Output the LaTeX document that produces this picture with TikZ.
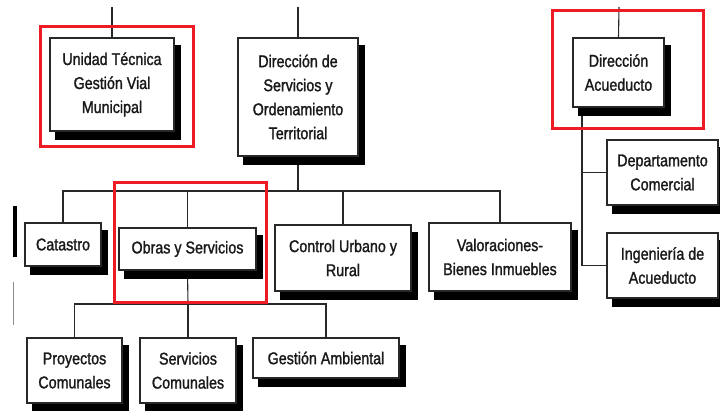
\documentclass[tikz,border=0pt]{standalone}
\usepackage{fontspec}
\setmainfont{Liberation Sans}[FakeStretch=0.84,FakeBold=1.4]
\usetikzlibrary{calc,backgrounds}
\definecolor{redbox}{RGB}{237,28,36}
\definecolor{linec}{RGB}{40,40,40}
\begin{document}
\begin{tikzpicture}[x=1pt,y=-1pt,
  box/.style={draw=linec, fill=white, line width=1.1pt, align=center, inner sep=0pt,
    font=\fontsize{17}{24}\selectfont, text=black!90},
  conn/.style={draw=linec, line width=1.1pt},
  shad/.style={fill=black},
  hl/.style={draw=redbox, line width=3pt}]
\useasboundingbox (0,0) rectangle (720,411);
% coordinates
\coordinate (tu) at (112,7);
\coordinate (ts) at (298,7);
\coordinate (ta) at (619,7);
\coordinate (bar1) at (298,191);
\coordinate (bar2) at (188,304);
\coordinate (ab) at (582,107);
% nodes
\node[box, minimum width=124pt, minimum height=93pt] (unidad) at (112,84.5) {Unidad Técnica\\Gestión Vial\\Municipal};
\node[box, minimum width=120pt, minimum height=118pt] (dserv) at (298,97) {Dirección de\\Servicios y\\Ordenamiento\\Territorial};
\node[box, minimum width=91pt, minimum height=69pt] (dacue) at (618.5,72.5) {Dirección\\Acueducto};
\node[box, minimum width=76pt, minimum height=43pt] (catastro) at (63,244.5) {Catastro};
\node[box, minimum width=137pt, minimum height=42pt] (obras) at (187.5,249) {Obras y Servicios};
\node[box, minimum width=136pt, minimum height=66pt] (control) at (343,258) {Control Urbano y\\Rural};
\node[box, minimum width=142pt, minimum height=68pt] (valor) at (500,257) {Valoraciones-\\Bienes Inmuebles};
\node[box, minimum width=95pt, minimum height=65pt] (proy) at (74.5,370.5) {Proyectos\\Comunales};
\node[box, minimum width=96pt, minimum height=65pt] (servcom) at (188,370.5) {Servicios\\Comunales};
\node[box, minimum width=146pt, minimum height=40pt] (gestion) at (326,358) {Gestión Ambiental};
\node[box, minimum width=111pt, minimum height=65pt] (depto) at (662.5,172.5) {Departamento\\Comercial};
\node[box, minimum width=111pt, minimum height=65pt] (ingen) at (662.5,265.5) {Ingeniería de\\Acueducto};
\begin{scope}[on background layer]
% connectors
\draw[conn] (tu) -- (unidad.north);
\draw[conn] (ts) -- (dserv.north);
\draw[conn] (ta) -- (dacue.north);
\draw[conn] (dserv.south) -- (bar1);
\draw[conn] (catastro.north) |- (bar1) -| (valor.north);
\draw[conn] (obras.north) -- (obras.north |- bar1);
\draw[conn] (control.north) -- (control.north |- bar1);
\draw[conn] (obras.south) -- (bar2);
\draw[conn] (proy.north) |- (bar2) -| (gestion.north);
\draw[conn] (servcom.north) -- (bar2);
\draw[conn] (ab) |- (ingen.west);
\draw[conn] (depto.west) -- (depto.west -| ab);
% shadows
\foreach \n in {unidad,dserv,dacue,catastro,obras,control,valor,proy,servcom,gestion,depto,ingen}
  \fill[shad] ($(\n.south west)+(6,8)$) rectangle ($(\n.north east)+(6,8)$);
\end{scope}
% cropped remnants at the left edge
\fill[black] (12.5,206) rectangle (17,257);
\draw[black!45, line width=1pt] (13,282) -- (13,325);
% highlights
\draw[hl] (40,27) rectangle (193,147);
\draw[hl] (114,183) rectangle (266,303);
\draw[hl] (552,11) rectangle (703,129);
\end{tikzpicture}
\end{document}
